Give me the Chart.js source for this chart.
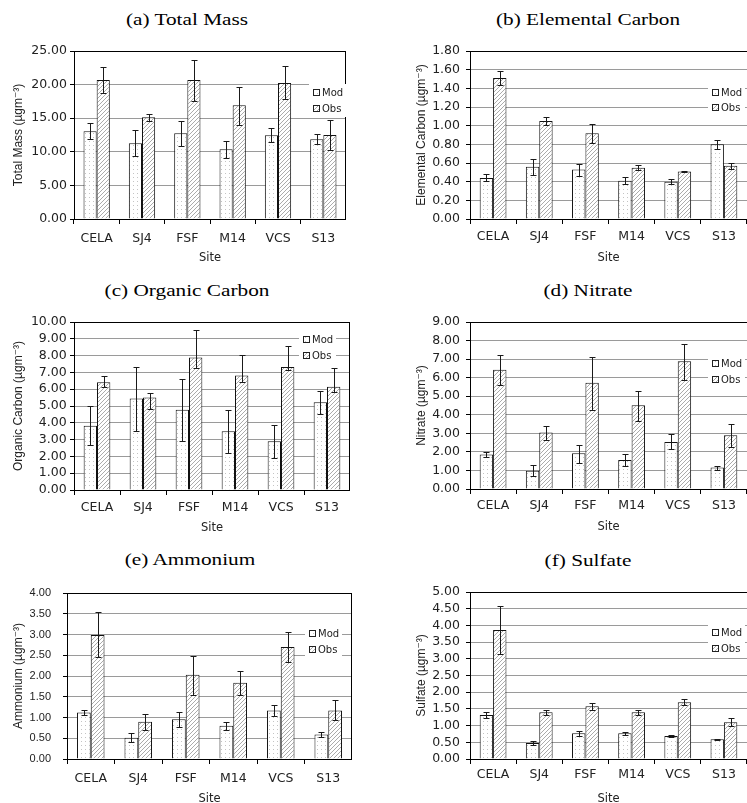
<!DOCTYPE html>
<html>
<head>
<meta charset="utf-8">
<script src="https://cdn.jsdelivr.net/npm/chart.js@4.4.1/dist/chart.umd.min.js"></script>
<style>
  html, body { margin: 0; padding: 0; background: #fff; }
  body { position: relative; width: 747px; height: 803px; overflow: hidden; }
  canvas { position: absolute; }
  .ttl {
    position: absolute; width: 300px; text-align: center; white-space: nowrap;
    font-family: 'Liberation Serif', 'Times New Roman', serif;
    font-size: 17px; line-height: 20px; color: #000;
    transform: scaleX(1.25);
  }
</style>
</head>
<body>
<script>
// categories and series
const sites = ['CELA', 'SJ4', 'FSF', 'M14', 'VCS', 'S13'];
const seriesNames = ['Mod', 'Obs'];
const panelTitles = ['(a) Total Mass', '(b) Elemental Carbon', '(c) Organic Carbon',
                     '(d) Nitrate', '(e) Ammonium', '(f) Sulfate'];
const yTitles = ['Total Mass (µgm⁻³)', 'Elemental Carbon (µgm⁻³)', 'Organic Carbon (µgm⁻³)',
                 'Nitrate (µgm⁻³)', 'Ammonium (µgm⁻³)', 'Sulfate (µgm⁻³)'];
const xTitle = 'Site';

// y axis range / tick step per panel
const yMaxes = [25, 1.8, 10, 9, 4, 5];
const ySteps = [5, 0.2, 1, 1, 0.5, 0.5];

// (a) Total Mass  - error bars as [low, high]
const massMod = [13.05, 11.26, 12.75, 10.37, 12.45, 11.85];
const massObs = [20.68, 15.13, 20.68, 16.91, 20.24, 12.50];
const massModErr = [[11.90, 14.24], [9.37, 13.24], [10.86, 14.53], [9.08, 11.66], [11.51, 13.49], [11.16, 12.60]];
const massObsErr = [[18.70, 22.57], [14.58, 15.58], [17.56, 23.71], [13.99, 19.59], [17.81, 22.72], [10.22, 14.68]];

// (b) Elemental Carbon
const ecMod = [0.44, 0.56, 0.53, 0.41, 0.40, 0.80];
const ecObs = [1.51, 1.05, 0.92, 0.55, 0.51, 0.57];
const ecModErr = [[0.405, 0.477], [0.473, 0.645], [0.466, 0.592], [0.373, 0.448], [0.376, 0.427], [0.753, 0.843]];
const ecObsErr = [[1.441, 1.581], [1.004, 1.097], [0.814, 1.018], [0.523, 0.581], [0.506, 0.516], [0.538, 0.599]];

// (c) Organic Carbon
const ocMod = [3.82, 5.44, 4.78, 3.50, 2.90, 5.22];
const ocObs = [6.42, 5.50, 7.88, 6.82, 7.32, 6.14];
const ocModErr = [[2.68, 4.98], [3.52, 7.32], [2.90, 6.60], [2.20, 4.78], [1.90, 3.88], [4.50, 5.92]];
const ocObsErr = [[6.16, 6.76], [4.84, 5.78], [7.24, 9.50], [6.40, 8.06], [7.12, 8.58], [5.86, 7.24]];

// (d) Nitrate
const no3Mod = [1.86, 0.99, 1.92, 1.56, 2.53, 1.16];
const no3Obs = [6.43, 3.05, 5.72, 4.52, 6.88, 2.89];
const no3ModErr = [[1.72, 1.99], [0.70, 1.29], [1.38, 2.35], [1.25, 1.86], [2.13, 2.94], [1.00, 1.25]];
const no3ObsErr = [[5.63, 7.24], [2.62, 3.42], [4.25, 7.11], [3.69, 5.27], [5.90, 7.83], [2.26, 3.48]];

// (e) Ammonium
const nh4Mod = [1.12, 0.51, 0.96, 0.80, 1.17, 0.59];
const nh4Obs = [2.99, 0.90, 2.03, 1.84, 2.70, 1.17];
const nh4ModErr = [[1.05, 1.18], [0.42, 0.63], [0.78, 1.14], [0.69, 0.90], [1.03, 1.29], [0.54, 0.64]];
const nh4ObsErr = [[2.46, 3.54], [0.70, 1.09], [1.55, 2.49], [1.54, 2.12], [2.33, 3.06], [0.93, 1.42]];

// (f) Sulfate
const so4Mod = [1.32, 0.48, 0.77, 0.77, 0.69, 0.59];
const so4Obs = [3.86, 1.40, 1.58, 1.40, 1.70, 1.10];
const so4ModErr = [[1.22, 1.42], [0.43, 0.53], [0.68, 0.85], [0.72, 0.82], [0.66, 0.72], [0.57, 0.61]];
const so4ObsErr = [[3.15, 4.57], [1.32, 1.47], [1.47, 1.67], [1.32, 1.47], [1.61, 1.79], [0.98, 1.22]];

// page geometry of each panel (canvas box, plot box, text offsets)
const sansTicks = { family: "'DejaVu Sans', sans-serif", size: 12.5 };
const layouts = [
  { left: 0,   top: 0,   w: 346, h: 267, plotL: 74,  plotT: 51,  plotB: 219, extR: 356, frameR: true,  yGap: 7,   xPad: 7.5, yTitleX: 18.7,  legX: 239,   legY: 42,   titleCx: 187, titleBase: 26,    yFont: sansTicks },
  { left: 374, top: 0,   w: 373, h: 267, plotL: 470, plotT: 51,  plotB: 219, extR: 754, frameR: false, yGap: 10,  xPad: 5.2, yTitleX: 421.5, legX: 241.7, legY: 41.7, titleCx: 588, titleBase: 25.7,  yFont: sansTicks },
  { left: 0,   top: 268, w: 350, h: 269, plotL: 74,  plotT: 322, plotB: 490, extR: 352, frameR: true,  yGap: 7.3, xPad: 5.5, yTitleX: 18.7,  legX: 229.3, legY: 18,   titleCx: 187, titleBase: 296.3, yFont: sansTicks },
  { left: 374, top: 268, w: 373, h: 268, plotL: 470, plotT: 322, plotB: 489, extR: 754, frameR: false, yGap: 10,  xPad: 3.8, yTitleX: 421.5, legX: 241.7, legY: 42.3, titleCx: 588, titleBase: 296.3, yFont: sansTicks },
  { left: 0,   top: 536, w: 352, h: 272, plotL: 67,  plotT: 593, plotB: 759, extR: 352, frameR: true,  yGap: 16,  xPad: 7.2, yTitleX: 18.3,  legX: 242.3, legY: 41,   titleCx: 190, titleBase: 566,   yFont: { family: "'Liberation Sans', sans-serif", size: 11 } },
  { left: 374, top: 536, w: 373, h: 272, plotL: 470, plotT: 592, plotB: 759, extR: 754, frameR: false, yGap: 10,  xPad: 3.5, yTitleX: 421.5, legX: 241.7, legY: 41.3, titleCx: 588, titleBase: 566.7, yFont: sansTicks }
];

// fill patterns: fine dots for Mod, diagonal hatch for Obs
function makePattern(draw) {
  const c = document.createElement('canvas');
  c.width = 4; c.height = 4;
  const g = c.getContext('2d');
  g.fillStyle = '#fff';
  g.fillRect(0, 0, 4, 4);
  draw(g);
  return g.createPattern(c, 'repeat');
}
const dotFill = makePattern(g => {
  g.fillStyle = '#c4c4c4';
  g.fillRect(1, 1, 1, 1);
});
const hatchFill = makePattern(g => {
  g.strokeStyle = '#ababab';
  g.lineWidth = 1;
  g.beginPath();
  g.moveTo(0, 4); g.lineTo(4, 0);
  g.moveTo(-1, 1); g.lineTo(1, -1);
  g.moveTo(3, 5); g.lineTo(5, 3);
  g.stroke();
});

const errorBars = {
  id: 'errorBars',
  afterDatasetsDraw(chart) {
    const ctx = chart.ctx, ys = chart.scales.y;
    ctx.save();
    ctx.strokeStyle = '#1a1a1a';
    ctx.lineWidth = 1;
    chart.data.datasets.forEach((ds, i) => {
      chart.getDatasetMeta(i).data.forEach((bar, j) => {
        const lo = ds.errors[j][0], hi = ds.errors[j][1];
        const x = Math.round(bar.x) + 0.5;
        const yl = Math.round(ys.getPixelForValue(lo)) + 0.5;
        const yh = Math.round(ys.getPixelForValue(hi)) + 0.5;
        ctx.beginPath();
        ctx.moveTo(x, yl); ctx.lineTo(x, yh);
        ctx.moveTo(x - 3, yl); ctx.lineTo(x + 3, yl);
        ctx.moveTo(x - 3, yh); ctx.lineTo(x + 3, yh);
        ctx.stroke();
      });
    });
    ctx.restore();
  }
};

// top (and right) border of the plot area
const frame = {
  id: 'frame',
  afterDatasetsDraw(chart, args, opts) {
    const { ctx, chartArea, width } = chart;
    const r = Math.min(chartArea.right, width);
    const t = Math.round(chartArea.top) + 0.5;
    ctx.save();
    ctx.strokeStyle = '#000';
    ctx.lineWidth = 1;
    ctx.beginPath();
    ctx.moveTo(chartArea.left, t);
    ctx.lineTo(r, t);
    if (opts.right) {
      ctx.moveTo(r - 0.5, chartArea.top);
      ctx.lineTo(r - 0.5, chartArea.bottom);
    }
    ctx.stroke();
    ctx.restore();
  }
};

// small legend inside the plot, on a white patch
const boxLegend = {
  id: 'boxLegend',
  afterDraw(chart, args, opts) {
    const { ctx, chartArea } = chart;
    const x0 = Math.round(chartArea.left + opts.x);
    const y0 = chartArea.top + opts.y;
    ctx.save();
    ctx.fillStyle = '#fff';
    ctx.fillRect(x0 - 4, y0 - 9, 37, 33);
    ctx.font = "10px 'DejaVu Sans', sans-serif";
    ctx.textBaseline = 'middle';
    chart.data.datasets.forEach((ds, i) => {
      const yy = Math.round(y0 + i * 15.5);
      ctx.fillStyle = ds.backgroundColor;
      ctx.fillRect(x0, yy - 3, 6, 6);
      ctx.strokeStyle = '#222';
      ctx.lineWidth = 1;
      ctx.strokeRect(x0 + 0.5, yy - 3.5, 6, 6);
      ctx.fillStyle = '#222';
      ctx.fillText(ds.label, x0 + 9, yy);
    });
    ctx.restore();
  }
};

const panelData = [
  [massMod, massObs, massModErr, massObsErr],
  [ecMod, ecObs, ecModErr, ecObsErr],
  [ocMod, ocObs, ocModErr, ocObsErr],
  [no3Mod, no3Obs, no3ModErr, no3ObsErr],
  [nh4Mod, nh4Obs, nh4ModErr, nh4ObsErr],
  [so4Mod, so4Obs, so4ModErr, so4ObsErr]
];

Chart.defaults.color = '#222';
Chart.defaults.font.family = "'DejaVu Sans', sans-serif";

layouts.forEach((lay, p) => {
  // panel heading
  const t = document.createElement('div');
  t.className = 'ttl';
  t.textContent = panelTitles[p];
  t.style.left = (lay.titleCx - 150) + 'px';
  t.style.top = (lay.titleBase - 15.75) + 'px';
  document.body.appendChild(t);

  const cv = document.createElement('canvas');
  cv.width = lay.w;
  cv.height = lay.h;
  cv.style.left = lay.left + 'px';
  cv.style.top = lay.top + 'px';
  document.body.appendChild(cv);

  const [mod, obs, modErr, obsErr] = panelData[p];

  new Chart(cv, {
    type: 'bar',
    data: {
      labels: sites,
      datasets: [
        { label: seriesNames[0], data: mod, errors: modErr, backgroundColor: dotFill, borderColor: '#111', borderWidth: 1 },
        { label: seriesNames[1], data: obs, errors: obsErr, backgroundColor: hatchFill, borderColor: '#111', borderWidth: 1 }
      ]
    },
    options: {
      responsive: false,
      animation: false,
      devicePixelRatio: 1,
      layout: { padding: { top: lay.plotT - lay.top, left: 0, bottom: 0, right: lay.w - (lay.extR - lay.left) } },
      datasets: { bar: { categoryPercentage: 0.58, barPercentage: 1, borderSkipped: 'start' } },
      plugins: {
        legend: { display: false },
        tooltip: { enabled: false },
        frame: { right: lay.frameR },
        boxLegend: { x: lay.legX, y: lay.legY }
      },
      scales: {
        x: {
          offset: true,
          grid: { offset: true, drawOnChartArea: false, drawTicks: true, tickLength: 5, color: '#000' },
          border: { display: true, color: '#000', width: 1 },
          ticks: { font: sansTicks, color: '#222', padding: lay.xPad, maxRotation: 0, autoSkip: false },
          title: { display: true, text: xTitle, color: '#222', font: { family: "'DejaVu Sans', sans-serif", size: 11.5 }, padding: { top: 0, bottom: 1.6 } },
          afterFit(s) { s.height = lay.top + lay.h - lay.plotB; }
        },
        y: {
          min: 0,
          max: yMaxes[p],
          grid: { color: '#9a9a9a', lineWidth: 1, drawTicks: true, tickLength: 4, tickColor: '#000' },
          border: { display: true, color: '#000', width: 1 },
          ticks: { stepSize: ySteps[p], autoSkip: false, font: lay.yFont, color: '#222', padding: lay.yGap - 4,
                   callback: v => Number(v).toFixed(2) },
          title: { display: true, text: yTitles[p], color: '#222',
                   font: { family: "'Liberation Sans', 'DejaVu Sans', sans-serif", size: 12 },
                   padding: { top: lay.yTitleX - lay.left - 7.2, bottom: 0 } },
          afterFit(s) { s.width = lay.plotL - lay.left; }
        }
      }
    },
    plugins: [errorBars, frame, boxLegend]
  });
});
</script>
</body>
</html>
